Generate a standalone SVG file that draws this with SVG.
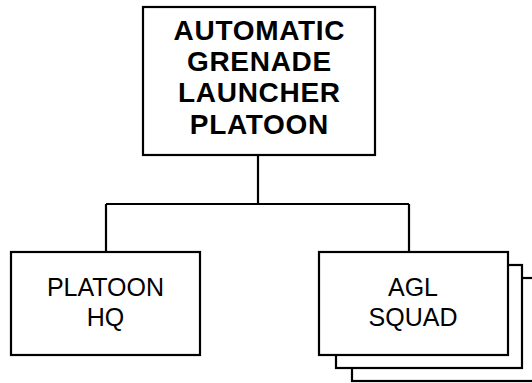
<svg xmlns="http://www.w3.org/2000/svg" width="532" height="383" viewBox="0 0 532 383">
<style>
.box{fill:#fff;stroke:#000;stroke-width:2.2}
.conn{fill:none;stroke:#000;stroke-width:2.2}
.t{font-family:"Liberation Sans",Arial,sans-serif;text-anchor:middle;fill:#000}
.b{font-weight:bold;font-size:28px;letter-spacing:0.7px}
.r{font-size:25px}
</style>
<rect width="532" height="383" fill="#fff"/>
<g id="connectors">
<path class="conn" d="M258,155 V204 M106,204 H409 M106,204 V252 M409,204 V252"/>
</g>
<g id="node-platoon">
<rect class="box" x="143" y="7" width="232" height="148"/>
<text class="t b" x="259.4" y="39.5">AUTOMATIC</text>
<text class="t b" x="259.4" y="71">GRENADE</text>
<text class="t b" x="259.4" y="102">LAUNCHER</text>
<text class="t b" x="259.4" y="133.5">PLATOON</text>
</g>
<g id="node-hq">
<rect class="box" x="11" y="252" width="189" height="103"/>
<text class="t r" x="105.5" y="296">PLATOON</text>
<text class="t r" x="105.5" y="326">HQ</text>
</g>
<g id="node-agl">
<rect class="box" x="352" y="278" width="189" height="103"/>
<rect class="box" x="336" y="265" width="186" height="103"/>
<rect class="box" x="319" y="252" width="189" height="103"/>
<text class="t r" x="413" y="296">AGL</text>
<text class="t r" x="413" y="326">SQUAD</text>
</g>
</svg>
